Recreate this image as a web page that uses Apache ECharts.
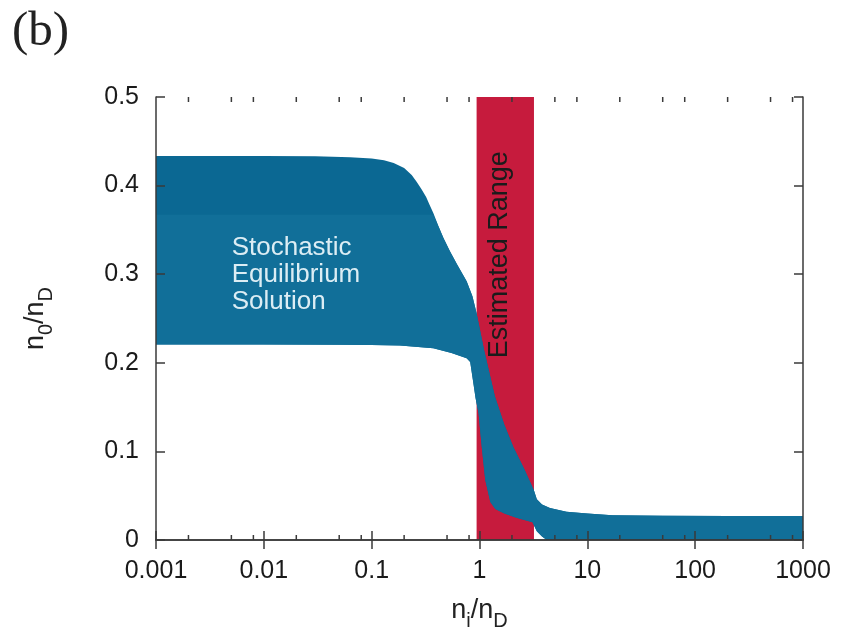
<!DOCTYPE html>
<html>
<head>
<meta charset="utf-8">
<script src="https://cdn.jsdelivr.net/npm/echarts@6/dist/echarts.min.js"></script>
<style>html,body{margin:0;padding:0;background:#fff;}#c{width:858px;height:631px;}</style>
</head>
<body>
<div id="c"></div>
<script>
// ---- data ----
var xTickLabels = ['0.001', '0.01', '0.1', '1', '10', '100', '1000'];
var yTickLabels = ['0', '0.1', '0.2', '0.3', '0.4', '0.5'];
var minorTickValues = [0.002, 0.005, 0.008, 0.02, 0.05, 0.08, 0.2, 0.5, 0.8, 2, 5, 8, 20, 50, 80, 200, 500, 800];

// upper edge of the stochastic equilibrium band
var upperX = [0.001, 0.01, 0.03, 0.063, 0.1, 0.13, 0.16, 0.2, 0.235, 0.262, 0.29, 0.32, 0.345, 0.373, 0.42, 0.462, 0.532, 0.62, 0.76, 0.86, 0.94, 1.1, 1.39, 1.7, 2.06, 2.6, 3.2, 3.4, 3.8, 4.5, 6.4, 10, 17, 50, 200, 1000];
var upperY = [0.4335, 0.4335, 0.433, 0.432, 0.4305, 0.4285, 0.4255, 0.420, 0.412, 0.404, 0.396, 0.387, 0.378, 0.369, 0.353, 0.341, 0.326, 0.311, 0.292, 0.275, 0.256, 0.215, 0.162, 0.130, 0.105, 0.080, 0.056, 0.046, 0.040, 0.036, 0.032, 0.030, 0.028, 0.0275, 0.027, 0.027];

// lower edge of the band
var lowerX = [0.001, 0.01, 0.05, 0.1, 0.183, 0.373, 0.55, 0.76, 0.82, 0.87, 0.92, 0.98, 1.05, 1.13, 1.26, 1.4, 1.7, 2.2, 3.1, 3.4, 3.8, 4.2, 1000];
var lowerY = [0.2207, 0.2207, 0.2205, 0.2200, 0.2195, 0.2165, 0.211, 0.205, 0.201, 0.180, 0.160, 0.143, 0.105, 0.068, 0.043, 0.035, 0.030, 0.025, 0.020, 0.010, 0.004, 0.0, 0.0];

// lighter inner part of the band (upper level)
var innerTop = 0.367;

// estimated range (x extent)
var rangeX = [0.94, 3.2];

// ---- chart ----
var chart = echarts.init(document.getElementById('c'), null, {renderer: 'canvas'});
var FONT = 'Liberation Sans, Arial, Helvetica, sans-serif';
var AXC = '#3a3a3a';

function bandPoints(api, capY) {
  var pts = [];
  for (var i = 0; i < upperX.length; i++) {
    var y = capY != null ? Math.min(upperY[i], capY) : upperY[i];
    pts.push(api.coord([upperX[i], y]));
  }
  for (var j = lowerX.length - 1; j >= 0; j--) {
    pts.push(api.coord([lowerX[j], lowerY[j]]));
  }
  return pts;
}

var rich = {
  n: {fontSize: 27, fontFamily: FONT, color: '#222', verticalAlign: 'bottom', lineHeight: 36, padding: [0, 0, 7, 0]},
  s: {fontSize: 20, fontFamily: FONT, color: '#222', verticalAlign: 'bottom', lineHeight: 36, padding: [0, 0, 0, 0]}
};

var baseAxisX = {
  type: 'log', logBase: 10, min: 0.001, max: 1000, splitNumber: 6,
  splitLine: {show: false},
  axisLine: {show: true, lineStyle: {color: AXC, width: 1.5}},
  axisTick: {show: true, inside: true, length: 9, lineStyle: {color: AXC, width: 1.5}},
  z: 10
};
var baseAxisY = {
  type: 'value', min: 0, max: 0.5, interval: 0.1,
  splitLine: {show: false},
  axisLine: {show: true, lineStyle: {color: AXC, width: 1.5}},
  axisTick: {show: true, inside: true, length: 9, lineStyle: {color: AXC, width: 1.5}},
  z: 10
};

var option = {
  backgroundColor: '#ffffff',
  animation: false,
  grid: {left: 156, right: 55, top: 97, bottom: 91, containLabel: false, outerBoundsMode: 'none'},
  xAxis: [
    Object.assign({}, baseAxisX, {
      position: 'bottom',
      axisLabel: {
        show: true, fontSize: 25, fontFamily: FONT, color: '#1a1a1a', margin: 19,
        formatter: function (v) { return xTickLabels[Math.round(Math.log10(v)) + 3]; }
      },
      name: '{n|n}{s|i}{n|/n}{s|D}',
      nameLocation: 'middle', nameGap: 55,
      nameTextStyle: {rich: rich}
    }),
    Object.assign({}, baseAxisX, {position: 'top', axisLabel: {show: false}})
  ],
  yAxis: [
    Object.assign({}, baseAxisY, {
      position: 'left',
      axisLabel: {
        show: true, fontSize: 25, fontFamily: FONT, color: '#1a1a1a', margin: 17,
        formatter: function (v) { return yTickLabels[Math.round(v * 10)]; }
      },
      name: '{n|n}{s|0}{n|/n}{s|D}',
      nameLocation: 'middle', nameGap: 100, nameRotate: 90,
      nameTextStyle: {rich: rich}
    }),
    Object.assign({}, baseAxisY, {position: 'right', axisLabel: {show: false}})
  ],
  graphic: [{
    type: 'text', left: 12, top: 8,
    style: {text: '(b)', fontSize: 49, fontFamily: 'Liberation Serif, DejaVu Serif, serif', fill: '#222'}
  }],
  series: [
    {
      // estimated range band
      type: 'custom', z: 1, clip: true,
      data: [[rangeX[0], 0]],
      renderItem: function (params, api) {
        var p0 = api.coord([rangeX[0], 0.5]);
        var p1 = api.coord([rangeX[1], 0]);
        return {type: 'rect', shape: {x: p0[0], y: p0[1], width: p1[0] - p0[0], height: p1[1] - p0[1]},
                style: {fill: '#c61b3d'}};
      }
    },
    {
      // band (union)
      type: 'custom', z: 2, clip: true,
      data: [[1, 0.2]],
      renderItem: function (params, api) {
        return {type: 'polygon', shape: {points: bandPoints(api, null)}, style: {fill: '#0b6893'}};
      }
    },
    {
      // lighter inner part
      type: 'custom', z: 3, clip: true,
      data: [[1, 0.2]],
      renderItem: function (params, api) {
        return {type: 'polygon', shape: {points: bandPoints(api, innerTop)}, style: {fill: '#116f99'}};
      }
    },
    {
      // annotation texts
      type: 'custom', z: 5, clip: false,
      data: [[1, 0.3]],
      renderItem: function (params, api) {
        var pr = api.coord([1.55, 0.322]);
        var ps = api.coord([0.00503, 0.299]);
        return {type: 'group', children: [
          {type: 'text', x: pr[0], y: pr[1], rotation: Math.PI / 2,
           style: {text: 'Estimated Range', fontSize: 27, fontFamily: FONT, fill: '#1b1b1b',
                   align: 'center', verticalAlign: 'middle'}},
          {type: 'text', x: ps[0], y: ps[1],
           style: {text: 'Stochastic\nEquilibrium\nSolution', fontSize: 26, lineHeight: 27, fontFamily: FONT,
                   fill: '#dcedf4', align: 'left', verticalAlign: 'middle'}}
        ]};
      }
    },
    {
      // minor ticks on bottom and top axes
      type: 'custom', z: 11, clip: false,
      data: minorTickValues.map(function (v) { return [v, 0]; }),
      renderItem: function (params, api) {
        var v = api.value(0);
        var b = api.coord([v, 0]);
        var t = api.coord([v, 0.5]);
        var ls = {stroke: AXC, lineWidth: 1.5};
        return {type: 'group', children: [
          {type: 'line', shape: {x1: b[0], y1: b[1], x2: b[0], y2: b[1] - 5}, style: ls},
          {type: 'line', shape: {x1: t[0], y1: t[1], x2: t[0], y2: t[1] + 5}, style: ls}
        ]};
      }
    }
  ]
};
chart.setOption(option);
</script>
</body>
</html>
